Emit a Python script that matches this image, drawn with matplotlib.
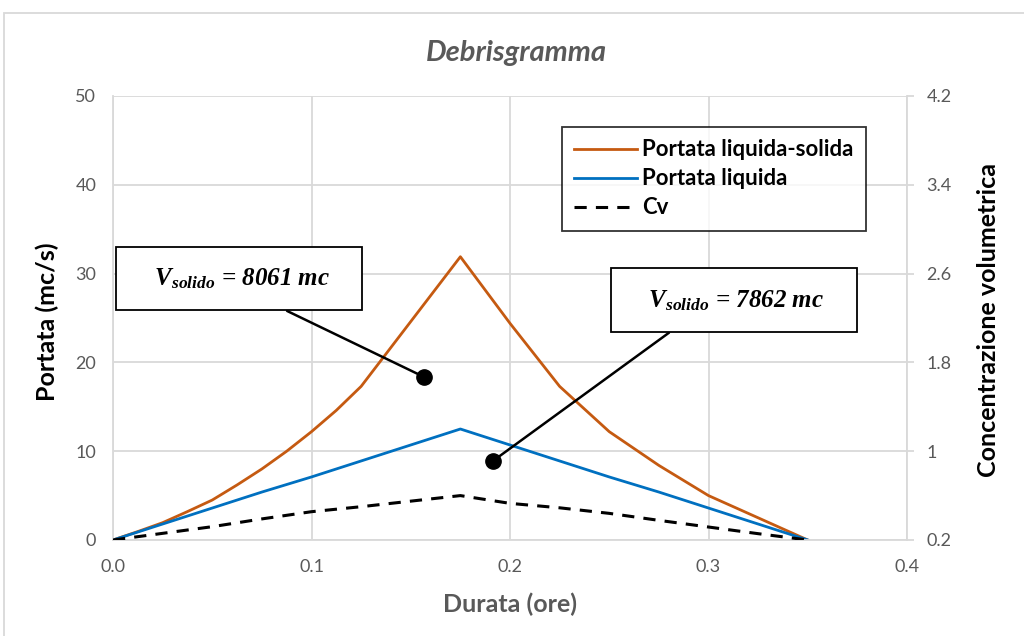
import matplotlib
matplotlib.use('Agg')
from matplotlib import pyplot as plt
from matplotlib.patches import Rectangle
from matplotlib.ticker import FormatStrFormatter

# Data
durata_ls = [0, 0.0125, 0.025, 0.0375, 0.05, 0.0625, 0.075, 0.0875, 0.1, 0.1125, 0.125,
             0.15, 0.175, 0.2, 0.225, 0.25, 0.275, 0.3, 0.325, 0.35]
portata_ls = [0, 0.95, 1.95, 3.2, 4.5, 6.2, 8.0, 10.0, 12.2, 14.6, 17.3,
              24.6, 31.9, 24.4, 17.3, 12.2, 8.4, 5.0, 2.5, 0]
durata = [0, 0.025, 0.05, 0.075, 0.1, 0.125, 0.15, 0.175, 0.2, 0.225, 0.25, 0.275, 0.3, 0.325, 0.35]
portata_l = [0, 1.8, 3.6, 5.4, 7.1, 8.9, 10.7, 12.5, 10.7, 8.9, 7.1, 5.4, 3.6, 1.8, 0]
cv = [0.2, 0.26, 0.32, 0.39, 0.455, 0.5, 0.55, 0.6, 0.53, 0.49, 0.44, 0.377, 0.317, 0.257, 0.2]

left_ticks = [0, 10, 20, 30, 40, 50]
right_ticks = [0.2, 1.0, 1.8, 2.6, 3.4, 4.2]
x_ticks = [0.0, 0.1, 0.2, 0.3, 0.4]

# annotations: volume label, box centre, dot
note_labels = ['8061', '7862']
note_text_xy = [(0.0635, 29.45), (0.3128, 27.0)]
note_dot_xy = [(0.1567, 18.36), (0.1914, 8.9)]
note_relpos = [(0.53, 0.0), (0.32, 0.0)]

plt.rcParams['font.family'] = ['Lato', 'DejaVu Sans']
plt.rcParams['mathtext.fontset'] = 'custom'
plt.rcParams['mathtext.it'] = 'Liberation Serif:italic:bold'
plt.rcParams['mathtext.rm'] = 'Liberation Serif:italic:bold'

grey_txt = '#595959'
grid_col = '#D9D9D9'

fig = plt.figure(figsize=(10.24, 6.36), dpi=100)
ax = fig.add_axes([113/1024, 1-540/636, 794/1024, 444/636])
ax2 = ax.twinx()

# outer chart frame
fig.patches.append(Rectangle((4/1024, -0.1), 1.2, 1-13/636+0.1, transform=fig.transFigure,
                             fill=False, edgecolor=grid_col, linewidth=1.3))

l1, = ax.plot(durata_ls, portata_ls, color='#C55A11', linewidth=2.0, label='Portata liquida-solida')
l2, = ax.plot(durata, portata_l, color='#0070C0', linewidth=2.0, label='Portata liquida')
l3, = ax2.plot(durata, cv, color='black', linewidth=2.2, linestyle=(0, (4, 3)), label='Cv')

ax.set_xlim(0, 0.4)
ax.set_ylim(0, 50)
ax2.set_ylim(0.2, 4.2)
ax.set_xticks(x_ticks)
ax.set_yticks(left_ticks)
ax2.set_yticks(right_ticks)
ax.xaxis.set_major_formatter(FormatStrFormatter('%.1f'))
ax2.yaxis.set_major_formatter(FormatStrFormatter('%g'))

ax.grid(True, color=grid_col, linewidth=1.3)
ax.set_axisbelow(True)
for s in ['top', 'right']:
    ax.spines[s].set_visible(False)
for s in ['left', 'bottom']:
    ax.spines[s].set_color(grid_col)
    ax.spines[s].set_linewidth(1.3)
for s in ['top', 'left', 'bottom']:
    ax2.spines[s].set_visible(False)
ax2.spines['right'].set_color(grid_col)
ax2.spines['right'].set_linewidth(1.3)

ax.tick_params(axis='y', length=0, labelsize=13, labelcolor=grey_txt, pad=12)
ax.tick_params(axis='x', length=0, labelsize=13, labelcolor=grey_txt, pad=14)
ax2.tick_params(axis='y', length=5, color=grid_col, width=1.3, labelsize=13, labelcolor=grey_txt, pad=9)

fig.text(516/1024, 1-53/636, 'Debrisgramma', ha='center', va='center', fontsize=21,
         fontstyle='italic', fontweight='bold', color=grey_txt)
fig.text(47/1024, 1-322/636, 'Portata (mc/s)', ha='center', va='center', rotation=90,
         fontsize=18, fontweight='bold', color='black')
fig.text(510/1024, 1-604/636, 'Durata (ore)', ha='center', va='center',
         fontsize=18, fontweight='bold', color=grey_txt)
fig.text(989/1024, 1-320/636, 'Concentrazione volumetrica', ha='center', va='center', rotation=90,
         fontsize=18, fontweight='bold', color='black')

leg = ax.legend(handles=[l1, l2, l3], loc='upper right', bbox_to_anchor=(0.948, 0.93),
                borderaxespad=0, frameon=True, fancybox=False, handlelength=2.8,
                handletextpad=0.25, labelspacing=0.36, borderpad=0.55,
                prop={'weight': 'bold', 'size': 16})
leg.get_frame().set_edgecolor('black')
leg.get_frame().set_linewidth(1.3)

for lab, txy, dxy, rp in zip(note_labels, note_text_xy, note_dot_xy, note_relpos):
    ax.annotate(r'   $V_{solido}$ = ' + lab + ' mc   ', xy=dxy, xytext=txy,
                ha='center', va='center', fontsize=18, fontfamily='Liberation Serif',
                fontstyle='italic', fontweight='bold', zorder=6,
                bbox=dict(boxstyle='square,pad=0.78', facecolor='white', edgecolor='black', linewidth=1.3),
                arrowprops=dict(arrowstyle='-', color='black', linewidth=1.8, relpos=rp,
                                shrinkA=0, shrinkB=0))
    ax.plot(dxy[0], dxy[1], 'o', color='black', markersize=11, zorder=7)

fig.savefig('out.png', dpi=100)
